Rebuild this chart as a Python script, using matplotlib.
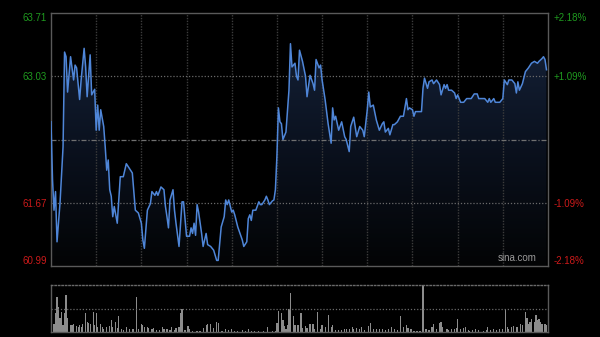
import numpy as np
import matplotlib
matplotlib.use("Agg")
import matplotlib.pyplot as plt
from matplotlib.colors import LinearSegmentedColormap

# minutes since 9:30 (HK session, 330 trading minutes) and price
price_t = [0, 1, 2, 3, 4, 6, 8, 9, 10, 11, 13, 15, 16, 17, 19, 20, 22, 23, 24, 26,
           27, 29, 30, 31, 32, 33, 35, 36, 37, 38, 39, 40, 41, 42, 44, 46, 48, 50, 52, 54,
           56, 58, 60, 61, 62, 64, 66, 67, 69, 70, 71, 73, 75, 76, 77, 78, 79, 81, 82,
           83, 85, 87, 88, 90, 92, 93, 94, 95, 96, 97, 98, 100, 101, 103, 104, 106, 108, 110, 111,
           113, 115, 116, 117, 118, 120, 121, 122, 124, 127, 128, 130, 131, 132, 133, 134, 136, 138, 139, 140,
           142, 143, 144, 145, 147, 148, 149, 150, 151, 152, 153, 154, 156, 158, 159, 160, 162, 163, 164, 165,
           167, 169, 170, 172, 174, 175, 176, 178, 179, 180, 182, 184, 186, 187, 188, 189, 191, 193, 195, 196,
           198, 199, 201, 203, 205, 207, 208, 210, 211, 212, 214, 216, 218, 220, 221, 222, 224, 225, 227, 228,
           230, 232, 234, 236, 237, 238, 240, 241, 242, 244, 246, 247, 248,
           250, 251, 253, 254, 256, 258, 259, 261, 262, 263, 264, 266, 268, 269, 270, 272, 274, 276, 279, 281,
           283, 284, 288, 290, 291, 292, 294, 295, 298, 300, 301, 303, 304, 306, 308, 309, 310, 311, 313, 315,
           317, 319, 321, 323, 324, 326, 327, 328, 329]
price = [62.54, 61.92, 61.59, 61.79, 61.25, 61.67, 62.27, 63.29, 63.24, 62.86, 63.24, 62.99, 63.15, 63.12, 62.78, 62.99, 63.33, 63.13, 62.81, 63.26,
         62.83, 62.89, 62.45, 62.72, 62.45, 62.67, 62.49, 62.27, 62.02, 62.13, 61.81, 61.74, 61.52, 61.63, 61.45, 61.95, 61.95, 62.09, 62.04, 61.99,
         61.59, 61.56, 61.45, 61.27, 61.18, 61.59, 61.66, 61.79, 61.75, 61.79, 61.75, 61.84, 61.81, 61.63, 61.52, 61.40, 61.70, 61.81, 61.59,
         61.45, 61.20, 61.68, 61.68, 61.31, 61.31, 61.40, 61.34, 61.45, 61.32, 61.65, 61.57, 61.34, 61.20, 61.34, 61.22, 61.20, 61.16, 61.05, 61.05,
         61.41, 61.52, 61.70, 61.65, 61.70, 61.57, 61.59, 61.54, 61.41, 61.27, 61.20, 61.25, 61.50, 61.54, 61.48, 61.59, 61.59, 61.68, 61.65, 61.65,
         61.70, 61.74, 61.70, 61.65, 61.69, 61.70, 61.81, 62.17, 62.69, 62.54, 62.52, 62.35, 62.43, 62.88, 63.38, 63.13, 63.17, 63.03, 62.99, 63.31,
         63.19, 63.03, 62.81, 63.04, 62.95, 62.88, 63.21, 63.12, 63.15, 62.99, 62.78, 62.52, 62.31, 62.69, 62.56, 62.60, 62.45, 62.54, 62.38, 62.35,
         62.22, 62.49, 62.59, 62.38, 62.49, 62.45, 62.38, 62.67, 62.86, 62.70, 62.72, 62.56, 62.45, 62.52, 62.54, 62.43, 62.47, 62.40, 62.51, 62.51,
         62.54, 62.60, 62.60, 62.79, 62.67, 62.69, 62.67, 62.60, 62.65, 62.65, 62.65, 62.90, 63.01,
         62.90, 62.97, 62.99, 62.95, 62.99, 62.94, 62.83, 62.94, 62.90, 62.94, 62.88, 62.88, 62.85, 62.79, 62.83, 62.75, 62.75, 62.79, 62.79, 62.84,
         62.84, 62.79, 62.79, 62.75, 62.79, 62.75, 62.79, 62.75, 62.75, 62.79, 62.99, 62.94, 62.99, 62.99, 62.95, 62.85, 62.97, 62.88, 62.95, 63.08,
         63.12, 63.17, 63.19, 63.17, 63.19, 63.22, 63.24, 63.21, 63.10]

vol_t = [0, 2, 3, 4, 5, 6, 7, 8, 9, 10, 11, 13, 14, 15, 17, 18, 19, 20, 21, 23, 24, 25, 26, 28, 29, 30, 31, 33, 34, 35,
         37, 39, 40, 41, 43, 44, 45, 47, 48, 50, 52, 54, 55, 57, 58, 60, 61, 62, 64, 65, 67, 68, 70, 72, 74, 75, 77, 79, 80, 82,
         83, 85, 86, 87, 89, 91, 92, 94, 97, 99, 101, 103, 104, 106, 108, 110, 111, 113, 114, 116, 118, 120, 122, 124, 127, 129, 131, 133, 135, 138,
         141, 144, 147, 149, 150, 151, 153, 154, 155, 156, 157, 158, 159, 161, 162, 164, 166, 167, 169, 170, 172, 174, 175, 177, 179, 180, 182, 184, 186, 187,
         189, 191, 193, 195, 196, 198, 200, 201, 203, 205, 206, 208, 211, 212, 214, 216, 218, 220, 222, 224, 226, 228, 230, 232, 234, 236, 237, 239, 241, 243,
         245, 247, 249, 251, 253, 254, 256, 258, 259, 260, 263, 264, 266, 268, 269, 270, 272, 274, 275, 277, 278, 280, 282, 284, 287, 289, 290, 292, 294, 296,
         298, 300, 302, 303, 304, 306, 307, 309, 310, 312, 313, 315, 316, 317, 318, 319, 321, 322, 323, 324, 325, 326, 328, 329]
vol = [40, 18, 40, 75, 54, 29, 43, 15, 40, 79, 29, 15, 15, 17, 13, 11, 15, 10, 18, 40, 22, 20, 17, 43, 15, 41, 11, 18, 11, 6,
       10, 13, 26, 10, 22, 8, 33, 6, 4, 10, 6, 7, 6, 75, 6, 17, 15, 11, 10, 8, 6, 8, 4, 4, 11, 6, 6, 4, 11, 4,
       8, 10, 40, 48, 4, 13, 6, 3, 3, 3, 8, 15, 18, 17, 8, 22, 20, 3, 3, 6, 4, 6, 3, 3, 4, 3, 6, 3, 3, 3,
       3, 10, 3, 3, 20, 45, 40, 26, 13, 6, 15, 50, 84, 33, 15, 15, 40, 8, 13, 8, 17, 17, 6, 43, 6, 15, 10, 36, 11, 15,
       4, 4, 4, 7, 6, 7, 10, 7, 8, 6, 10, 4, 13, 20, 6, 6, 6, 7, 4, 6, 11, 6, 4, 34, 10, 15, 8, 7, 3, 3,
       3, 100, 6, 4, 11, 17, 6, 20, 22, 10, 7, 4, 6, 6, 8, 27, 6, 8, 10, 4, 3, 4, 6, 4, 3, 4, 10, 4, 7, 4,
       6, 6, 50, 10, 6, 10, 13, 10, 10, 17, 15, 43, 29, 17, 22, 27, 22, 36, 26, 27, 22, 18, 17, 15]

prev_close = 62.35
price_ticks = [63.71, 63.03, 61.67, 60.99]
grid_minutes = [30, 60, 90, 120, 150, 180, 210, 240, 270, 300]

green = '#1f9a1f'
red = '#cc1a1a'

fig = plt.figure(figsize=(6, 3.37), dpi=100, facecolor='black')
ax = fig.add_axes([51/600, 1 - 266/337, 497/600, 253/337], facecolor='black')
axv = fig.add_axes([51/600, 1 - 332/337, 497/600, 47/337], facecolor='black')

ymin, ymax = price_ticks[-1], price_ticks[0]
ax.set_xlim(0, 330)
ax.set_ylim(ymin, ymax)

# gradient area under the line
fill = ax.fill_between(price_t, price, ymin, color='none', lw=0)
cmap = LinearSegmentedColormap.from_list('g', ['#030405', '#0b1220', '#17253d'])
grad = np.linspace(0, 1, 256).reshape(-1, 1)
im = ax.imshow(grad, extent=[0, 330, ymin, ymax], aspect='auto', origin='lower',
               cmap=cmap, zorder=1)
im.set_clip_path(fill.get_paths()[0], transform=ax.transData)

for m in grid_minutes:
    ax.axvline(m, color='#3c3c3c', lw=1, ls=(0, (1, 1)), zorder=2)
for p in [63.03, 61.67]:
    ax.axhline(p, color='#6a6a6a', lw=0.9, ls=(0, (1, 1.5)), zorder=2)
ax.axhline(prev_close, color='#707070', lw=0.9, ls=(0, (4, 1.5, 1, 1.5)), zorder=2)

ax.plot(price_t, price, color='#4f86d8', lw=1.1, zorder=3)

for s in ax.spines.values():
    s.set_color('#5a5a5a')
    s.set_linewidth(1)

ax.set_xticks([])
ax.set_yticks(price_ticks)
ax.set_yticklabels(['%.2f' % p for p in price_ticks], fontsize=7, family='Liberation Sans')
ax.tick_params(axis='y', length=0, pad=3)
labels = ax.get_yticklabels()
for lab, p in zip(labels, price_ticks):
    lab.set_color(green if p > prev_close else red)
labels[0].set_va('top')
labels[-1].set_va('bottom')

axr = ax.twinx()
axr.set_ylim(ymin, ymax)
axr.set_yticks(price_ticks)
axr.set_yticklabels(['%+.2f%%' % ((p - prev_close) / prev_close * 100) for p in price_ticks],
                    fontsize=7, family='Liberation Sans')
axr.tick_params(axis='y', length=0, pad=4)
rl = axr.get_yticklabels()
for lab, p in zip(rl, price_ticks):
    lab.set_color(green if p > prev_close else red)
rl[0].set_va('top')
rl[-1].set_va('bottom')
for s in axr.spines.values():
    s.set_visible(False)

ax.text(0.978, 0.012, 'sina.com', transform=ax.transAxes, ha='right', va='bottom',
        fontsize=7, color='#9a9a9a', family='Liberation Sans', zorder=4)

# volume panel
vmax = max(vol)
axv.bar(vol_t, vol, width=0.8, color='#8c8c8c', lw=0)
axv.set_xlim(0, 330)
axv.set_ylim(0, vmax)
axv.axhline(vmax / 2, color='#6a6a6a', lw=0.9, ls=(0, (1, 1.5)))
axv.set_xticks([])
axv.set_yticks([])
for k, s in axv.spines.items():
    s.set_color('#5a5a5a')
    s.set_linewidth(1)
axv.spines['top'].set_linestyle((0, (1, 1.5)))
axv.spines['top'].set_color('#6a6a6a')

fig.savefig('out.png', dpi=100, facecolor='black')
